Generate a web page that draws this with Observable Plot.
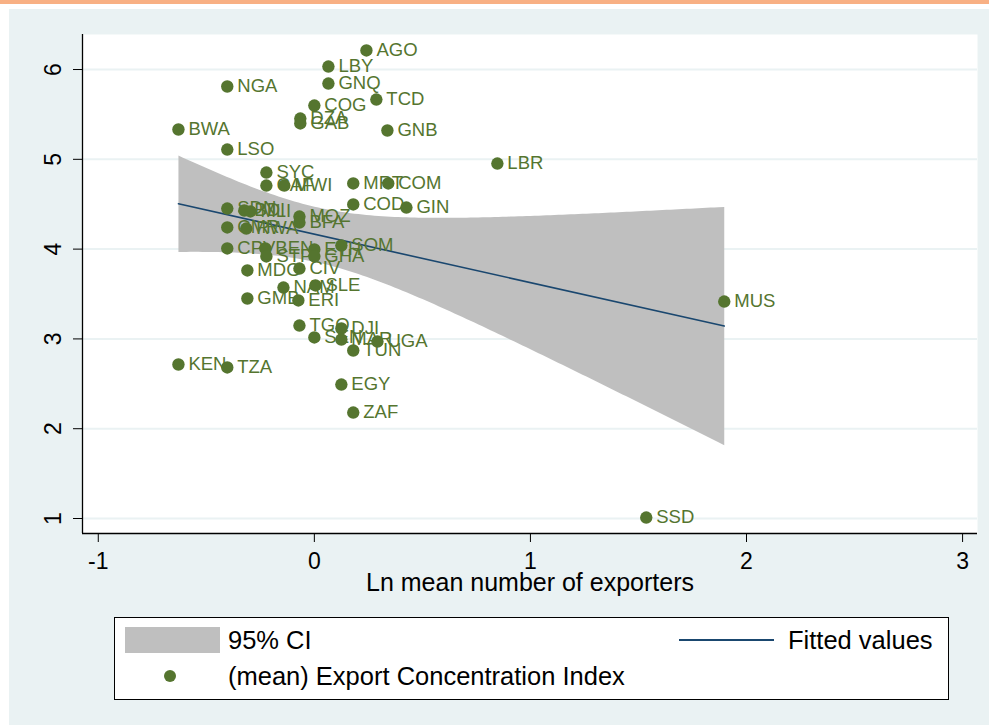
<!DOCTYPE html>
<html>
<head>
<meta charset="utf-8">
<script src="https://cdn.jsdelivr.net/npm/d3@7"></script>
<script src="https://cdn.jsdelivr.net/npm/@observablehq/plot@0.6"></script>
<style>
  html, body { margin: 0; padding: 0; background: #ffffff; }
  #page { position: relative; width: 989px; height: 725px; overflow: hidden; background: #ffffff;
          font-family: "Liberation Sans", Arial, Helvetica, sans-serif; }
  #topbar { position: absolute; left: 0; top: 0; width: 989px; height: 4px; background: #f8b084; }
  #panel { position: absolute; left: 9px; top: 9px; width: 980px; height: 716px; background: #eaf2f3; }
  #chart { position: absolute; left: 0; top: 0; }
  #legend { position: absolute; left: 114px; top: 617px; width: 835px; height: 83px; box-sizing: border-box;
            border: 1px solid #000; background: #ffffff; }
  #legend .sw { position: absolute; }
  #legend .lab { position: absolute; font-size: 25.5px; color: #000; line-height: 26px; white-space: nowrap; }
</style>
</head>
<body>
<div id="page">
  <div id="topbar"></div>
  <div id="panel"></div>
  <div id="chart"></div>
  <div id="legend">
    <div class="sw" style="left:10px;top:9px;width:95px;height:26px;background:#bfbfbf;"></div>
    <div class="lab" style="left:113px;top:9px;">95% CI</div>
    <div class="sw" style="left:564px;top:21px;width:95px;height:2px;background:#1a476f;"></div>
    <div class="lab" style="left:673px;top:9px;">Fitted values</div>
    <div class="sw" style="left:49px;top:52px;width:12px;height:12px;border-radius:50%;background:#55752f;"></div>
    <div class="lab" style="left:113px;top:45px;">(mean) Export Concentration Index</div>
  </div>
</div>
<script>
// Country codes with log mean number of exporters (x) and mean export concentration index (y)
const codes = ["AGO","LBY","NGA","GNQ","TCD","COG","DZA","GAB","BWA","GNB",
               "LSO","LBR","SYC","CAF","MWI","MRT","COM","COD","GIN","SDN",
               "BDI","MLI","MOZ","BFA","CMR","RWA","CPV","BEN","STP","ETH",
               "GHA","SOM","MDG","CIV","NAM","SLE","GMB","ERI","TGO","DJI",
               "SEN","MAR","UGA","TUN","KEN","TZA","EGY","ZAF","MUS","SSD"];
const lnExporters = [0.241, 0.065, -0.403, 0.065, 0.287, 0.000, -0.065, -0.065, -0.629, 0.338,
                     -0.403, 0.847, -0.222, -0.222, -0.139, 0.180, 0.342, 0.180, 0.426, -0.403,
                     -0.324, -0.296, -0.069, -0.069, -0.403, -0.315, -0.403, -0.227, -0.222, 0.000,
                     0.000, 0.125, -0.310, -0.069, -0.143, 0.005, -0.310, -0.074, -0.069, 0.125,
                     0.000, 0.125, 0.292, 0.180, -0.629, -0.403, 0.125, 0.180, 1.897, 1.536];
const concentration = [6.212, 6.033, 5.811, 5.844, 5.666, 5.599, 5.454, 5.399, 5.332, 5.321,
                       5.109, 4.953, 4.853, 4.708, 4.708, 4.731, 4.731, 4.497, 4.463, 4.452,
                       4.430, 4.419, 4.363, 4.296, 4.241, 4.229, 4.007, 4.007, 3.918, 3.996,
                       3.918, 4.040, 3.762, 3.784, 3.572, 3.595, 3.450, 3.428, 3.149, 3.116,
                       3.016, 2.993, 2.971, 2.871, 2.715, 2.682, 2.492, 2.180, 3.416, 1.011];

const xTicks = [-1, 0, 1, 2, 3];
const yTicks = [1, 2, 3, 4, 5, 6];
const xDomain = [-1.073, 3.069];
const yDomain = [0.833, 6.39];

const green = "#55752f";
const navy = "#1a476f";
const gridColor = "#eaf2f3";

// plain integers with an ASCII hyphen for negatives
const intFormat = d => (d < 0 ? "-" : "") + Math.abs(d);

const rows = codes.map((c, i) => ({code: c, x: lnExporters[i], y: concentration[i]}));

const chart = Plot.plot({
  width: 989,
  height: 612,
  marginLeft: 82,
  marginRight: 12,
  marginTop: 34,
  marginBottom: 79,
  style: {background: "transparent", fontFamily: "Liberation Sans, Arial, sans-serif", overflow: "visible"},
  x: {domain: xDomain, ticks: xTicks, label: null},
  y: {domain: yDomain, ticks: yTicks, label: null},
  marks: [
    Plot.frame({fill: "white", stroke: "none"}),
    Plot.gridY(yTicks, {stroke: gridColor, strokeOpacity: 1, strokeWidth: 2}),
    Plot.linearRegressionY(rows, {x: "x", y: "y", ci: 0.95, fill: "#bfbfbf", fillOpacity: 1,
                                  stroke: navy, strokeWidth: 1.6}),
    Plot.dot(rows, {x: "x", y: "y", r: 6.2, fill: green, stroke: "none"}),
    Plot.text(rows, {x: "x", y: "y", text: "code", dx: 10, textAnchor: "start", fill: green, fontSize: 18.5}),
    Plot.ruleX([xDomain[0]], {stroke: "black", strokeWidth: 1.3}),
    Plot.ruleY([yDomain[0]], {stroke: "black", strokeWidth: 1.3}),
    Plot.axisX(xTicks, {tickSize: 9, tickPadding: 10, fontSize: 23, label: null, tickFormat: intFormat,
                        stroke: "black", fill: "black"}),
    Plot.axisY(yTicks, {tickSize: 9, tickPadding: 13, tickRotate: -90, fontSize: 23, label: null, tickFormat: intFormat,
                        stroke: "black", fill: "black"}),
    Plot.text(["Ln mean number of exporters"], {text: d => d, frameAnchor: "bottom", dy: 57, fontSize: 25, fill: "black"})
  ]
});
document.getElementById("chart").appendChild(chart);
</script>
</body>
</html>
